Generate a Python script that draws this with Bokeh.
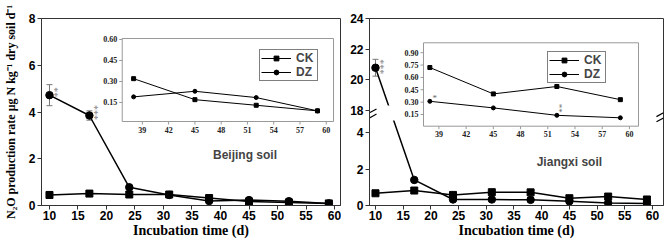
import math
from bokeh.plotting import figure
from bokeh.layouts import row
from bokeh.models import (Range1d, FixedTicker, Whisker, TeeHead, ColumnDataSource,
                          Legend, LegendItem, Label, CustomJSTickFormatter)
from bokeh.embed import file_html
from bokeh.resources import INLINE

# ---------------- data ----------------
days = [10, 17, 24, 31, 38, 45, 52, 59]

bj_ck = [0.45, 0.51, 0.47, 0.47, 0.32, 0.17, 0.13, 0.09]
bj_ck_err = [0.15, 0.05, 0.05, 0.05, 0.075, 0.03, 0.01, 0.02]
bj_dz = [4.72, 3.85, 0.78, 0.45, 0.19, 0.23, 0.185, 0.09]
bj_dz_err = [0.45, 0.20, 0.05, 0.05, 0.01, 0.035, 0.02, 0.02]

jx_ck = [0.67, 0.82, 0.58, 0.73, 0.72, 0.40, 0.49, 0.33]
jx_ck_err = [0.08, 0.05, 0.12, 0.05, 0.05, 0.04, 0.01, 0.05]
jx_dz = [20.8, 1.4, 0.33, 0.33, 0.31, 0.23, 0.14, 0.11]
jx_dz_err = [0.55, 0.10, 0.05, 0.05, 0.11, 0.07, 0.02, 0.03]

x_ticks = [10, 15, 20, 25, 30, 35, 40, 45, 50, 55, 60]
bj_y_ticks = [0, 2, 4, 6, 8]
jx_y_ticks = [0, 2, 4, 18, 20, 22, 24]
inset_x_ticks = [39, 42, 45, 48, 51, 54, 57, 60]
bj_inset_y_ticks = [0.15, 0.30, 0.45, 0.60]
jx_inset_y_ticks = [0.15, 0.30, 0.45, 0.60, 0.75, 0.90]
inset_from_day = 38

bj_sig = [(0, "**"), (1, "***")]          # (index, label) on DZ main
jx_sig = [(0, "***")]
jx_inset_sig = [(4, "*", False), (6, "**", True)]

series_names = ["CK", "DZ"]
x_title = "Incubation time (d)"
y_title = "N\u2082O production rate \u03bcg N kg\u207b\u00b9 dry soil d\u207b\u00b9"
bj_name = "Beijing soil"
jx_name = "Jiangxi soil"

# ---------------- style ----------------
SANS = "Liberation Sans"
SERIF = "Liberation Serif"
FRAME = "#333333"
INSET_FRAME = "#999999"
ERR = "#777777"

# broken-axis mapping for the Jiangxi panel (display units)
BRK_LOW = 4.95      # top of lower segment
BRK_U0 = 5.205      # display position of value 18
BRK_T = 18.0
BRK_K = 0.837       # upper segment scale relative to lower


def brk(v):
    return v if v <= BRK_LOW else BRK_U0 + (v - BRK_T) * BRK_K


def inset_ranges(fw, fh, px0, px1, ptop, pbot, dx0, dx1, dy0, dy1):
    sx = (px1 - px0) / (dx1 - dx0)
    sy = (pbot - ptop) / (dy1 - dy0)
    xs = dx0 - px0 / sx
    xe = dx1 + (fw - px1) / sx
    ys = dy0 - (fh - pbot) / sy
    ye = dy1 + ptop / sy
    return Range1d(xs, xe), Range1d(ys, ye)


def style_main(p):
    p.xgrid.visible = False
    p.ygrid.visible = False
    p.outline_line_color = FRAME
    p.outline_line_width = 1
    for ax in (p.xaxis[0], p.yaxis[0]):
        ax.axis_line_color = FRAME
        ax.major_tick_line_color = FRAME
        ax.major_tick_out = 4
        ax.major_tick_in = 0
        ax.minor_tick_out = 0
        ax.minor_tick_in = 0
        ax.major_label_text_font = SANS
        ax.major_label_text_font_style = "bold"
        ax.major_label_text_font_size = "12px"
        ax.major_label_text_color = "black"
        ax.major_label_standoff = 2
    p.xaxis.ticker = FixedTicker(ticks=x_ticks)
    p.xaxis.major_label_standoff = 1
    p.xaxis.axis_label = x_title
    p.xaxis.axis_label_text_font = SERIF
    p.xaxis.axis_label_text_font_style = "bold"
    p.xaxis.axis_label_text_font_size = "14px"
    p.xaxis.axis_label_standoff = 0
    p.xaxis.axis_label_text_color = "black"


def draw_main(p, ck, ck_err, dz, dz_err, tf):
    src_ck = ColumnDataSource(dict(x=days, y=[tf(v) for v in ck],
                                   lo=[tf(v - e) for v, e in zip(ck, ck_err)],
                                   hi=[tf(v + e) for v, e in zip(ck, ck_err)]))
    src_dz = ColumnDataSource(dict(x=days, y=[tf(v) for v in dz],
                                   lo=[tf(v - e) for v, e in zip(dz, dz_err)],
                                   hi=[tf(v + e) for v, e in zip(dz, dz_err)]))
    for src in (src_ck, src_dz):
        p.add_layout(Whisker(source=src, base="x", upper="hi", lower="lo", dimension="height",
                             line_color=ERR, line_width=1,
                             upper_head=TeeHead(size=6, line_color=ERR),
                             lower_head=TeeHead(size=6, line_color=ERR)))
    p.line("x", "y", source=src_ck, line_color="black", line_width=1.5)
    p.scatter("x", "y", source=src_ck, marker="square", size=7, color="black")
    p.line("x", "y", source=src_dz, line_color="black", line_width=1.5)
    p.scatter("x", "y", source=src_dz, marker="circle", size=7.5, color="black")


def draw_inset(p, ck, ck_err, dz, dz_err, box, ytick_vals):
    idx = [i for i, d in enumerate(days) if d >= inset_from_day]
    fw, fh, px0, px1, ptop, pbot, dx0, dx1, dy0, dy1 = box
    xr, yr = inset_ranges(fw, fh, px0, px1, ptop, pbot, dx0, dx1, dy0, dy1)
    p.extra_x_ranges = {"ix": xr}
    p.extra_y_ranges = {"iy": yr}
    kw = dict(x_range_name="ix", y_range_name="iy")
    p.quad(left=[dx0], right=[dx1], bottom=[dy0], top=[dy1], fill_color="white",
           line_color=INSET_FRAME, line_width=1, **kw)
    # ticks
    p.ray(x=inset_x_ticks, y=[dy0] * len(inset_x_ticks), length=3, angle=-math.pi / 2,
          length_units="screen", line_color=INSET_FRAME, line_width=1, **kw)
    p.ray(x=[dx0] * len(ytick_vals), y=ytick_vals, length=3, angle=math.pi,
          length_units="screen", line_color=INSET_FRAME, line_width=1, **kw)
    p.text(x=inset_x_ticks, y=[dy0] * len(inset_x_ticks), text=[str(t) for t in inset_x_ticks],
           y_offset=5, text_align="center", text_baseline="top", text_font=SANS,
           text_font_style="bold", text_font_size="8px", text_color="#222222", **kw)
    p.text(x=[dx0] * len(ytick_vals), y=ytick_vals, text=[f"{t:.2f}" for t in ytick_vals],
           x_offset=-5, text_align="right", text_baseline="middle", text_font=SANS,
           text_font_style="bold", text_font_size="8px", text_color="#222222", **kw)
    rends = []
    for vals, errs, marker in ((ck, ck_err, "square"), (dz, dz_err, "circle")):
        src = ColumnDataSource(dict(x=[days[i] for i in idx], y=[vals[i] for i in idx],
                                    lo=[vals[i] - errs[i] for i in idx],
                                    hi=[vals[i] + errs[i] for i in idx]))
        p.add_layout(Whisker(source=src, base="x", upper="hi", lower="lo", dimension="height",
                             line_color="#aaaaaa", line_width=1,
                             upper_head=TeeHead(size=4, line_color="#aaaaaa"),
                             lower_head=TeeHead(size=4, line_color="#aaaaaa"), **kw))
        ln = p.line("x", "y", source=src, line_color="black", line_width=1, **kw)
        sc = p.scatter("x", "y", source=src, marker=marker, size=4, color="black", **kw)
        rends.append([ln, sc])
    return rends, kw


def add_legend(p, rends, loc):
    items = [LegendItem(label=n, renderers=r) for n, r in zip(series_names, rends)]
    lg = Legend(items=items, location=loc, border_line_color="black", border_line_width=1,
                background_fill_color="white", background_fill_alpha=1,
                label_text_font=SANS, label_text_font_style="bold", label_text_font_size="12px",
                glyph_width=30, glyph_height=12, label_height=12, spacing=0, padding=1,
                margin=0, label_standoff=5)
    p.add_layout(lg)


# ---------------- Beijing panel ----------------
pL = figure(width=341, height=240, x_range=Range1d(8.6, 61.05), y_range=Range1d(0, 8),
            output_backend="svg", toolbar_location=None,
            min_border_left=40, min_border_right=1, min_border_top=18, min_border_bottom=35)
style_main(pL)
pL.yaxis.ticker = FixedTicker(ticks=bj_y_ticks)
pL.yaxis.axis_label = y_title
pL.yaxis.axis_label_text_font = SERIF
pL.yaxis.axis_label_text_font_style = "bold"
pL.yaxis.axis_label_text_font_size = "12px"
pL.yaxis.axis_label_standoff = 8
pL.yaxis.axis_label_text_color = "black"
draw_main(pL, bj_ck, bj_ck_err, bj_dz, bj_dz_err, lambda v: v)
pL.text(x=[days[i] for i, _ in bj_sig], y=[bj_dz[i] for i, _ in bj_sig],
        text=[s for _, s in bj_sig], angle=math.pi / 2, x_offset=8, y_offset=-3,
        text_align="center", text_baseline="middle", text_font=SANS,
        text_font_size="10px", text_color="#888888")
rL, kwL = draw_inset(pL, bj_ck, bj_ck_err, bj_dz, bj_dz_err,
                     (300, 187, 81, 293, 20, 103, 36.7, 60.83, 0.014, 0.607), bj_inset_y_ticks)
add_legend(pL, rL, (218, 124))
pL.add_layout(Label(x=44.3, y=2.14, text=bj_name, text_align="center", text_baseline="middle",
                    text_font=SANS, text_font_style="bold", text_font_size="12px"))

# ---------------- Jiangxi panel ----------------
pR = figure(width=325, height=240, x_range=Range1d(8.92, 61.99), y_range=Range1d(0, 10.247),
            output_backend="svg", toolbar_location=None,
            min_border_left=28, min_border_right=3, min_border_top=18, min_border_bottom=35)
style_main(pR)
pR.yaxis.ticker = FixedTicker(ticks=[brk(t) for t in jx_y_ticks])
pR.yaxis.formatter = CustomJSTickFormatter(
    args=dict(b=BRK_LOW, u0=BRK_U0, k=BRK_K, t=BRK_T),
    code="return (tick <= b ? tick : t + (tick - u0) / k).toFixed(0);")
draw_main(pR, jx_ck, jx_ck_err, jx_dz, jx_dz_err, brk)
# gap in the DZ line at the axis break
pR.quad(left=[days[0] + 0.6], right=[days[1] - 0.6], bottom=[4.66], top=[brk(18.33)],
        fill_color="white", line_color=None)
pR.text(x=[days[i] for i, _ in jx_sig], y=[brk(jx_dz[i]) for i, _ in jx_sig],
        text=[s for _, s in jx_sig], angle=math.pi / 2, x_offset=8, y_offset=-1,
        text_align="center", text_baseline="middle", text_font=SANS,
        text_font_size="10px", text_color="#888888")
rR, kwR = draw_inset(pR, jx_ck, jx_ck_err, jx_dz, jx_dz_err,
                     (294, 187, 54, 269, 24.3, 107.7, 37.3, 61.0, 0.008, 1.02), jx_inset_y_ticks)
for i, s, rot in jx_inset_sig:
    pR.text(x=[days[i]], y=[jx_dz[i]], text=[s], angle=(math.pi / 2 if rot else 0),
            x_offset=5, y_offset=(-7 if rot else -3), text_align="center", text_baseline="middle",
            text_font=SANS, text_font_size="9px", text_color="#666666", **kwR)
add_legend(pR, rR, (178, 122))
pR.add_layout(Label(x=45.0, y=2.36, text=jx_name, text_align="center", text_baseline="middle",
                    text_font=SANS, text_font_style="bold", text_font_size="12px"))
# axis-break marks (pairs of slanted strokes) just inside both frame edges
brk_y = [4.80, 5.08]
pR.ray(x=[8.92] * len(brk_y), y=brk_y, length=8, angle=0.5, length_units="screen",
       line_color="black", line_width=1.2)
pR.ray(x=[61.99] * len(brk_y), y=brk_y, length=8, angle=math.pi + 0.5, length_units="screen",
       line_color="black", line_width=1.2)

layout = row(pL, pR)
open("out.html", "w").write(file_html(layout, INLINE))
